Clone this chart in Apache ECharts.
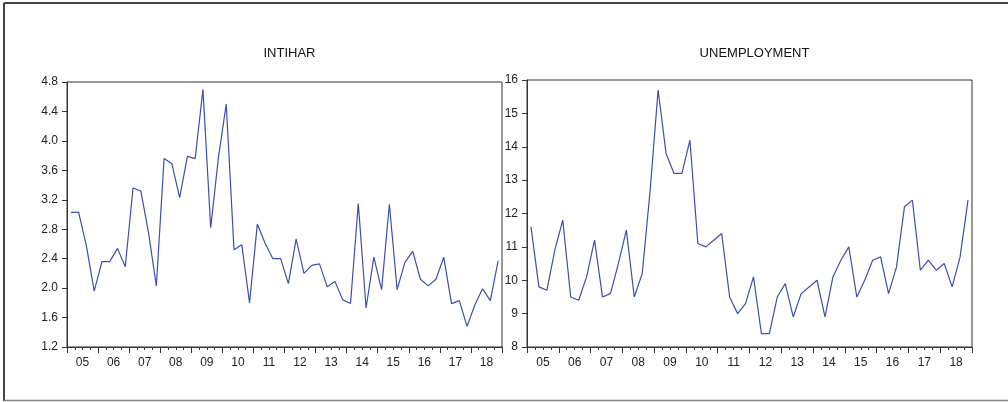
<!DOCTYPE html>
<html>
<head>
<meta charset="utf-8">
<script src="https://cdn.jsdelivr.net/npm/echarts@6/dist/echarts.min.js"></script>
<style>
html,body{margin:0;padding:0;background:#fff;}
#chart{width:1008px;height:402px;}
</style>
</head>
<body>
<div id="chart"></div>
<script>
// ---- data ----
const years = ['05','06','07','08','09','10','11','12','13','14','15','16','17','18'];
const quarters = [];
for (const y of years) { for (const q of ['Q1','Q2','Q3','Q4']) quarters.push('20' + y + q); }

const intihar = [3.03,3.03,2.57,1.96,2.36,2.36,2.54,2.29,3.36,3.32,
                 2.75,2.03,3.76,3.69,3.23,3.79,3.76,4.70,2.82,3.78,
                 4.50,2.52,2.59,1.80,2.87,2.61,2.40,2.40,2.06,2.67,
                 2.20,2.31,2.33,2.02,2.09,1.84,1.79,3.15,1.73,2.42,
                 1.98,3.14,1.98,2.35,2.50,2.12,2.03,2.12,2.42,1.79,
                 1.83,1.48,1.77,1.99,1.83,2.37];
const unemployment = [11.6,9.8,9.7,10.9,11.8,9.5,9.4,10.1,11.2,9.5,
                      9.6,10.5,11.5,9.5,10.2,12.7,15.7,13.8,13.2,13.2,
                      14.2,11.1,11.0,11.2,11.4,9.5,9.0,9.3,10.1,8.4,
                      8.4,9.5,9.9,8.9,9.6,9.8,10.0,8.9,10.1,10.6,
                      11.0,9.5,10.0,10.6,10.7,9.6,10.4,12.2,12.4,10.3,
                      10.6,10.3,10.5,9.8,10.7,12.4];
const titles = ['INTIHAR', 'UNEMPLOYMENT'];

// ---- chart ----
const FONT = 'Liberation Sans, Arial, sans-serif';
const AX = '#333';
const LINE = '#3c4fae';
const chart = echarts.init(document.getElementById('chart'), null, {renderer: 'canvas'});

const grids = [
  {left: 67, top: 82, width: 435, height: 265},
  {left: 527, top: 80, width: 445, height: 267}
];

function qAxis(gi) {
  return {
    type: 'category', gridIndex: gi, data: quarters, boundaryGap: true,
    axisLine: {lineStyle: {color: AX, width: 1}},
    axisTick: {show: true, interval: 0, length: 3, lineStyle: {color: AX}},
    axisLabel: {show: false}, splitLine: {show: false}
  };
}
function yearAxis(gi) {
  return {
    type: 'category', gridIndex: gi, data: years, boundaryGap: true, position: 'bottom',
    axisLine: {show: false},
    axisTick: {show: true, interval: 0, length: 6, lineStyle: {color: AX}},
    axisLabel: {show: true, interval: 0, margin: 10, color: '#222', fontSize: 12, fontFamily: FONT},
    splitLine: {show: false}
  };
}

const option = {
  animation: false,
  backgroundColor: '#fff',
  title: [
    {text: titles[0], left: 284.5, top: 42, textAlign: 'center',
     textStyle: {fontSize: 13, fontWeight: 'normal', color: '#111', fontFamily: FONT}},
    {text: titles[1], left: 749.5, top: 42, textAlign: 'center',
     textStyle: {fontSize: 13, fontWeight: 'normal', color: '#111', fontFamily: FONT}}
  ],
  grid: grids.map(g => Object.assign({show: true, borderColor: AX, borderWidth: 1, backgroundColor: 'transparent'}, g)),
  xAxis: [qAxis(0), yearAxis(0), qAxis(1), yearAxis(1)],
  yAxis: [
    {type: 'value', gridIndex: 0, min: 1.2, max: 4.8, interval: 0.4,
     axisLine: {show: true, lineStyle: {color: AX}},
     axisTick: {show: true, length: 5, lineStyle: {color: AX}},
     axisLabel: {margin: 9, color: '#222', fontSize: 12, fontFamily: FONT,
                 formatter: v => (Math.round(v * 10) / 10).toFixed(1)},
     splitLine: {show: false}},
    {type: 'value', gridIndex: 1, min: 8, max: 16, interval: 1,
     axisLine: {show: true, lineStyle: {color: AX}},
     axisTick: {show: true, length: 5, lineStyle: {color: AX}},
     axisLabel: {margin: 9, color: '#222', fontSize: 12, fontFamily: FONT},
     splitLine: {show: false}}
  ],
  series: [
    {type: 'line', xAxisIndex: 0, yAxisIndex: 0, data: intihar, showSymbol: false,
     lineStyle: {color: LINE, width: 1.2}, itemStyle: {color: LINE}},
    {type: 'line', xAxisIndex: 2, yAxisIndex: 1, data: unemployment, showSymbol: false,
     lineStyle: {color: LINE, width: 1.2}, itemStyle: {color: LINE}}
  ],
  graphic: [
    {type: 'line', shape: {x1: 4, y1: 3, x2: 1008, y2: 3}, style: {stroke: '#444', lineWidth: 2}},
    {type: 'line', shape: {x1: 4, y1: 3, x2: 4, y2: 401}, style: {stroke: '#444', lineWidth: 2}},
    {type: 'line', shape: {x1: 4, y1: 400.5, x2: 1008, y2: 400.5}, style: {stroke: '#888', lineWidth: 1.5}}
  ]
};
chart.setOption(option);
</script>
</body>
</html>
